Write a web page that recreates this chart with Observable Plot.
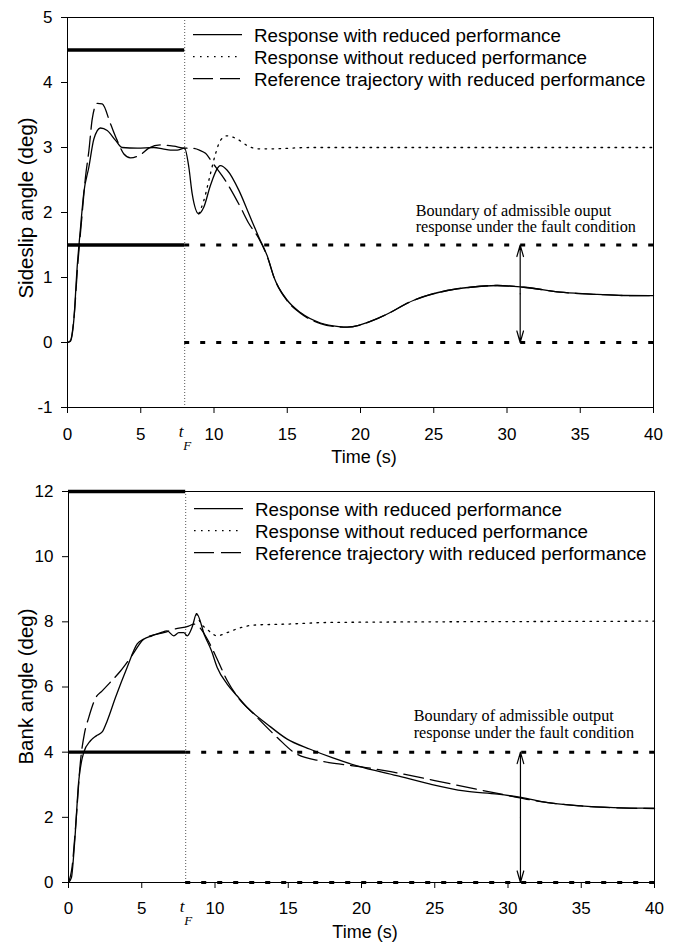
<!DOCTYPE html>
<html>
<head>
<meta charset="utf-8">
<script src="https://cdn.jsdelivr.net/npm/d3@7"></script>
<script src="https://cdn.jsdelivr.net/npm/@observablehq/plot@0.6"></script>
<style>
  body { margin: 0; background: #fff; }
  #wrap { width: 675px; height: 942px; background: #fff; }
  #wrap svg { display: block; }
  #wrap svg [aria-label*="tick label"], #wrap svg [aria-label*="tick label"] text { font-size: 17px; fill: #000; }
</style>
</head>
<body>
<div id="wrap"></div>
<script>
// ---------- shared ----------
const timeTicks = [0, 5, 10, 15, 20, 25, 30, 35, 40];
const sideslipTicks = [-1, 0, 1, 2, 3, 4, 5];
const bankTicks = [0, 2, 4, 6, 8, 10, 12];
const faultTime = 8;
const endTime = 40;
const seriesNames = [
  "Response with reduced performance",
  "Response without reduced performance",
  "Reference trajectory with reduced performance"
];

// ---------- Sideslip angle (deg) ----------
const ssReducedT = [0, 0.2, 0.43, 0.66, 0.89, 1.11, 1.46, 1.8, 2.25, 2.71, 3.28, 3.73, 4.76, 5.9, 6.5, 7.03, 7.49, 7.99, 8.28, 8.51, 8.96, 9.3, 9.76, 10.44, 10.9, 11.7, 12.38, 13.06, 13.67, 14.1, 15.0, 15.9, 17.27, 18.52, 19.09, 21.37, 23.64, 25.92, 27.5, 29.33, 31.15, 33.88, 36.16, 37.97, 40];
const ssReducedV = [0, 0.02, 0.34, 1.16, 1.77, 2.3, 2.7, 3.13, 3.30, 3.26, 3.11, 3.0, 2.99, 3.0, 2.98, 2.96, 2.96, 2.99, 2.70, 2.29, 1.98, 2.08, 2.42, 2.72, 2.65, 2.34, 1.98, 1.62, 1.31, 1.0, 0.65, 0.46, 0.30, 0.245, 0.236, 0.39, 0.65, 0.80, 0.85, 0.877, 0.85, 0.77, 0.74, 0.723, 0.72];

const ssNominalT = [8.96, 9.3, 9.76, 10.1, 10.44, 10.9, 11.58, 12.27, 12.95, 13.86, 16.6, 20, 30, 40];
const ssNominalV = [1.98, 2.18, 2.6, 2.9, 3.11, 3.18, 3.13, 3.03, 2.98, 2.98, 3.0, 3.0, 3.0, 3.0];

const ssRefT = [0, 0.2, 0.45, 0.7, 0.95, 1.23, 1.46, 1.69, 2.03, 2.37, 2.94, 3.39, 3.85, 4.3, 4.98, 5.55, 6.35, 7.26, 8.0, 8.4, 9.0, 9.42, 9.88, 10.78, 11.13, 11.81, 12.38, 13.06, 13.67, 14.1, 15.0, 15.9, 17.27, 18.52, 19.09, 21.37, 23.64, 25.92, 27.5, 29.33, 31.15, 33.88, 36.16, 37.97, 40];
const ssRefV = [0, 0.03, 0.4, 1.2, 1.85, 2.55, 2.95, 3.44, 3.68, 3.67, 3.36, 3.11, 2.9, 2.84, 2.89, 2.99, 3.04, 3.02, 2.99, 2.99, 2.96, 2.91, 2.77, 2.49, 2.36, 2.08, 1.83, 1.6, 1.3, 1.0, 0.64, 0.45, 0.29, 0.24, 0.236, 0.39, 0.65, 0.80, 0.85, 0.877, 0.85, 0.77, 0.74, 0.723, 0.72];

const ssBoundPre = [1.5, 4.5];   // admissible band before fault
const ssBoundPost = [0, 1.5];    // admissible band after fault
const ssArrowTime = 30.9;
const ssAnnotation = ["Boundary of admissible ouput", "response under the fault condition"];

// ---------- Bank angle (deg) ----------
const bkReducedT = [0, 0.2, 0.41, 0.7, 1.04, 1.5, 1.89, 2.3, 2.64, 3.2, 4.0, 4.69, 5.14, 5.7, 6.3, 6.73, 7.19, 7.53, 7.87, 8.1, 8.45, 8.74, 9.3, 9.76, 10.15, 10.83, 11.5, 12.2, 13.56, 14.93, 16.5, 18.0, 19.7, 22.4, 24.7, 27.0, 29.3, 30.9, 32.7, 34.95, 37.2, 40];
const bkReducedV = [0, 0.15, 1.18, 3.12, 3.99, 4.35, 4.5, 4.62, 4.96, 5.67, 6.6, 7.32, 7.47, 7.57, 7.67, 7.72, 7.57, 7.67, 7.67, 7.57, 7.85, 8.25, 7.57, 7.11, 6.6, 6.09, 5.73, 5.37, 4.86, 4.40, 4.09, 3.83, 3.58, 3.28, 3.02, 2.81, 2.71, 2.61, 2.45, 2.35, 2.30, 2.28];

const bkNominalT = [8.74, 9.0, 9.47, 10.15, 10.83, 11.74, 12.65, 14.9, 17.7, 25, 32, 40];
const bkNominalV = [8.25, 7.98, 7.77, 7.57, 7.67, 7.82, 7.9, 7.93, 7.98, 8.0, 8.01, 8.02];

const bkRefT = [0, 0.25, 0.5, 0.82, 1.1, 1.38, 1.86, 2.3, 2.8, 3.55, 4.23, 5.14, 5.8, 6.5, 7.19, 8.2, 8.56, 8.9, 9.5, 10.0, 10.83, 11.5, 12.65, 14.25, 15.4, 17.2, 18.57, 20, 22, 25, 28, 30, 32, 35, 37.5, 40];
const bkRefV = [0, 0.5, 1.8, 3.73, 4.6, 5.06, 5.67, 5.88, 6.12, 6.49, 6.9, 7.47, 7.6, 7.67, 7.77, 7.87, 7.93, 7.85, 7.45, 7.0, 6.2, 5.72, 5.17, 4.45, 3.99, 3.73, 3.63, 3.55, 3.4, 3.13, 2.85, 2.67, 2.5, 2.35, 2.29, 2.27];

const bkBoundPre = [4, 12];
const bkBoundPost = [0, 4];
const bkArrowTime = 30.85;
const bkAnnotation = ["Boundary of admissible output", "response under the fault condition"];

// ---------- helpers ----------
const SANS = "'Liberation Sans', Arial, Helvetica, sans-serif";
const SERIF = "'Liberation Serif', 'Times New Roman', serif";
const zipSeries = (T, V) => T.map((t, i) => ({t, v: V[i]}));

const styleSolid = {stroke: "#000", strokeWidth: 1.3};
const styleDotted = {stroke: "#000", strokeWidth: 1.3, strokeDasharray: "1.6,5.4"};
const styleDashed = {stroke: "#000", strokeWidth: 1.3, strokeDasharray: "20,7"};
const seriesStyles = [styleSolid, styleDotted, styleDashed];

function makeChart(cfg) {
  const reduced = zipSeries(cfg.reducedT, cfg.reducedV);
  const nominal = zipSeries(cfg.nominalT, cfg.nominalV);
  const ref = zipSeries(cfg.refT, cfg.refV);
  const preLines = cfg.boundPre.map(y => ({y, x1: 0, x2: faultTime}));
  const postLines = cfg.boundPost.map(y => ({y, x1: faultTime, x2: endTime}));
  const mid = (cfg.boundPost[0] + cfg.boundPost[1]) / 2;
  const arrows = cfg.boundPost.map(y => ({x: cfg.arrowTime, y1: mid, y2: y}));

  const chart = Plot.plot({
    width: 675,
    height: cfg.height,
    marginTop: cfg.marginTop,
    marginBottom: cfg.marginBottom,
    marginLeft: cfg.marginLeft,
    marginRight: cfg.marginRight,
    style: {fontFamily: SANS, fontSize: "17px", color: "#000", background: "#fff", overflow: "visible"},
    x: {domain: [0, endTime], ticks: timeTicks, tickSize: 6, tickPadding: cfg.xTickPadding, tickFormat: d => String(d), label: null},
    y: {domain: cfg.yDomain, ticks: cfg.yTicks, tickSize: 6, tickPadding: 9, tickFormat: d => String(d), label: null},
    marks: [
      Plot.ruleX([faultTime], {stroke: "#444", strokeWidth: 0.9, strokeDasharray: "1,2"}),
      Plot.ruleY(preLines, {y: "y", x1: "x1", x2: "x2", stroke: "#000", strokeWidth: 3.4}),
      Plot.ruleY(postLines, {y: "y", x1: "x1", x2: "x2", stroke: "#000", strokeWidth: 3, strokeDasharray: "5,11"}),
      Plot.line(nominal, {x: "t", y: "v", curve: "monotone-x", ...styleDotted}),
      Plot.line(ref, {x: "t", y: "v", curve: "monotone-x", ...styleDashed}),
      Plot.line(reduced, {x: "t", y: "v", curve: "monotone-x", ...styleSolid}),
      Plot.arrow(arrows, {x1: "x", x2: "x", y1: "y1", y2: "y2", stroke: "#000", strokeWidth: 1.2, headLength: 15, headAngle: 32}),
      Plot.frame({stroke: "#000", strokeWidth: 1})
    ]
  });

  const svg = d3.select(chart);
  const xs = chart.scale("x"), ys = chart.scale("y");
  const left = cfg.marginLeft, top = cfg.marginTop;
  const right = 675 - cfg.marginRight, bottom = cfg.height - cfg.marginBottom;

  // Legend (top-right of the frame)
  const lg = svg.append("g");
  seriesNames.forEach((name, i) => {
    const base = top + 24.7 + i * 22;
    const st = seriesStyles[i];
    lg.append("line")
      .attr("x1", left + 126).attr("x2", left + 175)
      .attr("y1", base - 7).attr("y2", base - 7)
      .attr("stroke", st.stroke).attr("stroke-width", st.strokeWidth)
      .attr("stroke-dasharray", st.strokeDasharray || null);
    lg.append("text")
      .attr("x", left + 187).attr("y", base)
      .attr("text-anchor", "start")
      .attr("font-family", SANS).attr("font-size", "18.8px").attr("fill", "#000")
      .text(name);
  });

  // Annotation
  const ax = xs.apply(cfg.annotTime);
  const ay = ys.apply(cfg.boundPost[1]);
  cfg.annotation.forEach((line, i) => {
    svg.append("text")
      .attr("x", ax).attr("y", ay + cfg.annotOffset + i * 16.5)
      .attr("text-anchor", "start")
      .attr("font-family", SERIF).attr("font-size", "16.2px").attr("fill", "#000")
      .text(line);
  });

  // t_F label
  const fx = xs.apply(faultTime);
  svg.append("text").attr("x", fx - 3).attr("y", bottom + 30)
    .attr("font-family", SERIF).attr("font-style", "italic").attr("font-size", "17px")
    .attr("text-anchor", "middle").attr("fill", "#000").text("t");
  svg.append("text").attr("x", fx + 3).attr("y", bottom + 43)
    .attr("font-family", SERIF).attr("font-style", "italic").attr("font-size", "13px")
    .attr("text-anchor", "middle").attr("fill", "#000").text("F");

  // X axis title
  svg.append("text").attr("x", (left + right) / 2 + 4).attr("y", bottom + 56)
    .attr("font-family", SANS).attr("font-size", "18px").attr("text-anchor", "middle")
    .attr("fill", "#000").text("Time (s)");

  // Y axis title
  svg.append("text")
    .attr("transform", `translate(33,${(top + bottom) / 2 - cfg.yTitleShift}) rotate(-90)`)
    .attr("font-family", SANS).attr("font-size", "20.5px").attr("text-anchor", "middle")
    .attr("fill", "#000").text(cfg.yTitle);

  return chart;
}

const wrap = document.getElementById("wrap");

wrap.appendChild(makeChart({
  height: 470, marginTop: 17, marginBottom: 63, marginLeft: 67, marginRight: 22,
  xTickPadding: 14,
  yDomain: [-1, 5], yTicks: sideslipTicks,
  reducedT: ssReducedT, reducedV: ssReducedV,
  nominalT: ssNominalT, nominalV: ssNominalV,
  refT: ssRefT, refV: ssRefV,
  boundPre: ssBoundPre, boundPost: ssBoundPost,
  arrowTime: ssArrowTime,
  annotation: ssAnnotation, annotTime: 23.8, annotOffset: -29,
  yTitle: "Sideslip angle (deg)", yTitleShift: 4
}));

wrap.appendChild(makeChart({
  height: 472, marginTop: 21, marginBottom: 60, marginLeft: 68, marginRight: 21,
  xTickPadding: 13,
  yDomain: [0, 12], yTicks: bankTicks,
  reducedT: bkReducedT, reducedV: bkReducedV,
  nominalT: bkNominalT, nominalV: bkNominalV,
  refT: bkRefT, refV: bkRefV,
  boundPre: bkBoundPre, boundPost: bkBoundPost,
  arrowTime: bkArrowTime,
  annotation: bkAnnotation, annotTime: 23.6, annotOffset: -30.5,
  yTitle: "Bank angle (deg)", yTitleShift: 0
}));
</script>
</body>
</html>
